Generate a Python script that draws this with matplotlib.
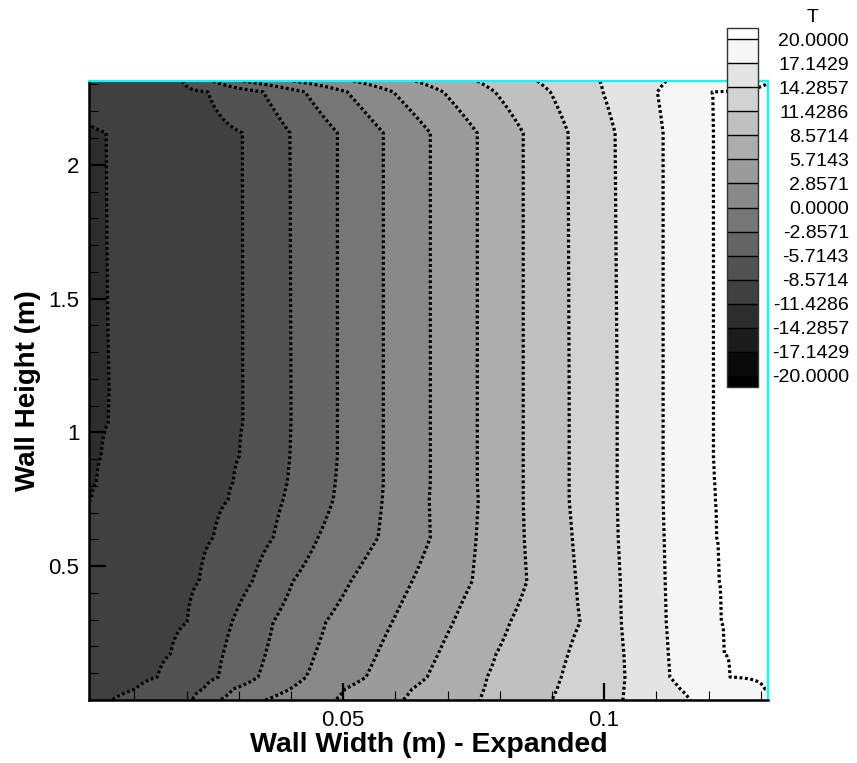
import numpy as np
import matplotlib
matplotlib.use('Agg')
import matplotlib.pyplot as plt
from matplotlib.ticker import MultipleLocator

plt.rcParams['font.family'] = ['Liberation Sans', 'DejaVu Sans']

# legend levels (T)
levels = np.linspace(-20.0, 20.0, 15)

y_rows = [2.313, 2.272, 2.119, 1.160, 1.037, 0.910, 0.813, 0.750,
          0.608, 0.444, 0.291, 0.172, 0.086, 0.041, 0.000]

# x position (m) of each isotherm at the heights above
iso_m11 = [-0.0069, -0.0044, 0.0046, 0.0052, 0.0050, 0.0036, 0.0027, 0.0017,
           -0.0013, -0.0042, -0.0061, -0.0080, -0.0100, -0.0119, -0.0138]
iso_m9 = [0.0192, 0.0241, 0.0307, 0.0308, 0.0308, 0.0301, 0.0289, 0.0280,
          0.0251, 0.0224, 0.0201, 0.0169, 0.0144, 0.0102, 0.0057]
iso_m6 = [0.0251, 0.0347, 0.0398, 0.0400, 0.0400, 0.0398, 0.0393, 0.0385,
          0.0366, 0.0326, 0.0287, 0.0270, 0.0261, 0.0232, 0.0211]
iso_m3 = [0.0308, 0.0427, 0.0489, 0.0489, 0.0489, 0.0489, 0.0485, 0.0481,
          0.0452, 0.0404, 0.0366, 0.0351, 0.0337, 0.0289, 0.0264]
iso_0 = [0.0404, 0.0508, 0.0577, 0.0577, 0.0577, 0.0577, 0.0577, 0.0575,
         0.0567, 0.0515, 0.0467, 0.0446, 0.0429, 0.0398, 0.0351]
iso_3 = [0.0519, 0.0596, 0.0667, 0.0667, 0.0667, 0.0667, 0.0667, 0.0665,
         0.0667, 0.0632, 0.0594, 0.0565, 0.0544, 0.0504, 0.0485]
iso_6 = [0.0638, 0.0692, 0.0757, 0.0757, 0.0757, 0.0757, 0.0757, 0.0759,
         0.0755, 0.0747, 0.0711, 0.0682, 0.0661, 0.0632, 0.0615]
iso_9 = [0.0757, 0.0791, 0.0845, 0.0845, 0.0845, 0.0845, 0.0845, 0.0845,
         0.0847, 0.0852, 0.0820, 0.0793, 0.0776, 0.0770, 0.0762]
iso_11 = [0.0872, 0.0897, 0.0931, 0.0933, 0.0933, 0.0933, 0.0933, 0.0933,
          0.0939, 0.0946, 0.0954, 0.0931, 0.0918, 0.0910, 0.0900]
iso_14 = [0.0992, 0.0998, 0.1021, 0.1025, 0.1025, 0.1025, 0.1025, 0.1025,
          0.1027, 0.1031, 0.1033, 0.1038, 0.1040, 0.1038, 0.1036]
iso_17 = [0.1119, 0.1102, 0.1113, 0.1113, 0.1113, 0.1113, 0.1113, 0.1113,
          0.1115, 0.1117, 0.1119, 0.1123, 0.1126, 0.1146, 0.1165]
iso_20 = [0.1318, 0.1207, 0.1209, 0.1209, 0.1209, 0.1209, 0.1211, 0.1213,
          0.1215, 0.1220, 0.1224, 0.1230, 0.1241, 0.1308, 0.1356]

# temperatures beyond the outermost isotherms (cold / warm side)
x_cold, t_cold = -0.03, -12.9
x_warm, t_warm = 0.16, 21.0

x_ticks = [0.05, 0.1]
x_tick_labels = ['0.05', '0.1']
y_ticks = [0.5, 1.0, 1.5, 2.0]
y_tick_labels = ['0.5', '1', '1.5', '2']

#build the temperature grid row by row from the isotherm positions
iso_x = np.array([iso_m11, iso_m9, iso_m6, iso_m3, iso_0, iso_3,
                  iso_6, iso_9, iso_11, iso_14, iso_17, iso_20])
iso_t = levels[3:]
xg = np.linspace(x_cold, x_warm, 1500)
rows = []
for j in range(len(y_rows)):
    xp = np.concatenate([[x_cold], iso_x[:, j], [x_warm]])
    tp = np.concatenate([[t_cold], iso_t, [t_warm]])
    rows.append(np.interp(xg, xp, tp))
yg = np.array(y_rows)[::-1]
T = np.array(rows)[::-1]

fig = plt.figure(figsize=(8.57, 7.63), dpi=100)
ax = fig.add_axes([89/857, 1 - 700/763, 679/857, 619/763])

cmap = plt.get_cmap('gray').with_extremes(under='black', over='white')
cf = ax.contourf(xg, yg, T, levels=levels, cmap=cmap, extend='both',
                 vmin=-20, vmax=20)
cs = ax.contour(xg, yg, T, levels=levels, colors='black', linewidths=2.3)
cs.set_linestyle((0, (0.9, 0.8)))

ax.set_xlim(0.0013, 0.1314)
ax.set_ylim(0.0, 2.313)

#axis frame
for side in ['left', 'bottom']:
    ax.spines[side].set_color('black')
    ax.spines[side].set_linewidth(1.8)
for side in ['top', 'right']:
    ax.spines[side].set_color('#00ffff')
    ax.spines[side].set_linewidth(1.6)

ax.set_xticks(x_ticks, labels=x_tick_labels)
ax.set_yticks(y_ticks, labels=y_tick_labels)
ax.xaxis.set_minor_locator(MultipleLocator(0.01))
ax.yaxis.set_minor_locator(MultipleLocator(0.1))
ax.tick_params(which='major', direction='in', length=12, width=1.6,
               labelsize=16, pad=7, top=False, right=False)
ax.tick_params(which='minor', direction='in', length=6.5, width=0.8,
               top=False, right=False)

ax.set_xlabel('Wall Width (m) - Expanded', fontsize=20.5, fontweight='bold')
ax.set_ylabel('Wall Height (m)', fontsize=20, fontweight='bold')
ax.xaxis.set_label_coords(0.5, -0.0727)
ax.xaxis.label.set_va('center')
ax.yaxis.set_label_coords(-0.09, 0.5)
ax.yaxis.label.set_va('center')

#legend box
cax = fig.add_axes([727/857, 1 - 387/763, 31/857, 359/763])
cb = fig.colorbar(cf, cax=cax, extend='both', extendrect=True,
                  extendfrac=0.033, drawedges=True)
cb.outline.set_linewidth(1.0)
cb.outline.set_edgecolor('#333333')
cb.dividers.set_color('black')
cb.dividers.set_linewidth(1.0)
legend_labels = ['%.4f' % (round(v, 4) + 0.0) for v in levels]
cb.set_ticks(levels, labels=legend_labels, ha='right')
cax.tick_params(length=0, pad=65.5, labelsize=14)
fig.text(813/857, 1 - 17/763, 'T', ha='center', va='center', fontsize=14)

plt.savefig('out.png', dpi=100)
